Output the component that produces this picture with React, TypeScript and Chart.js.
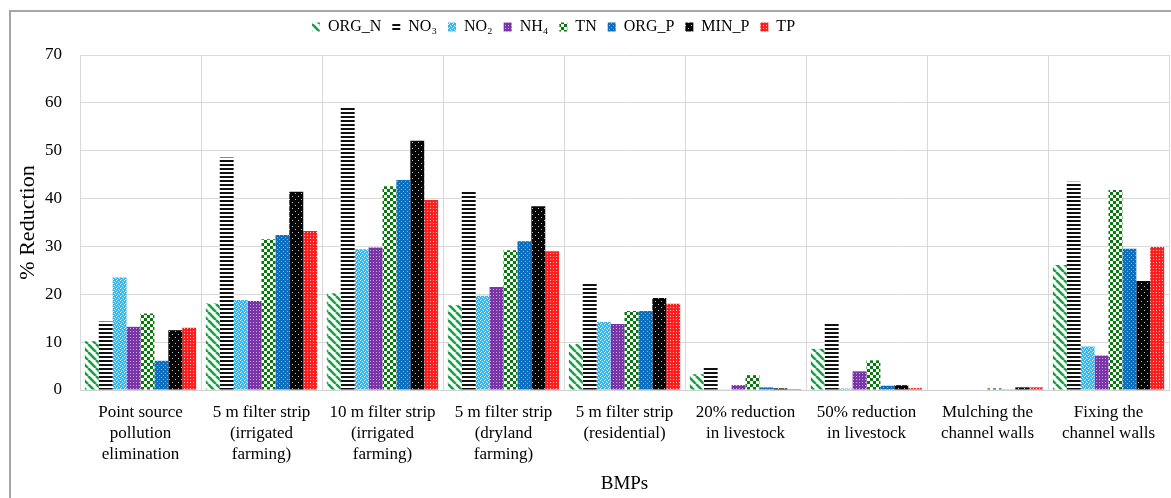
import React, { useEffect, useRef } from 'react';
import { Chart, registerables } from 'chart.js';

Chart.register(...registerables);

const categories: string[][] = [
  ['Point source', 'pollution', 'elimination'],
  ['5 m filter strip', '(irrigated', 'farming)'],
  ['10 m filter strip', '(irrigated', 'farming)'],
  ['5 m filter strip', '(dryland', 'farming)'],
  ['5 m filter strip', '(residential)'],
  ['20% reduction', 'in livestock'],
  ['50% reduction', 'in livestock'],
  ['Mulching the', 'channel walls'],
  ['Fixing the', 'channel walls'],
];

const seriesNames = ['ORG_N', 'NO₃', 'NO₂', 'NH₄', 'TN', 'ORG_P', 'MIN_P', 'TP'];

const orgN = [10.2, 18.1, 20.2, 17.7, 9.6, 3.3, 8.6, 0, 26.1];
const no3 = [14.3, 48.6, 59.0, 41.4, 22.5, 5.0, 13.8, 0, 43.5];
const no2 = [23.5, 18.8, 29.4, 19.7, 14.2, 0.15, 0.3, 0, 9.1];
const nh4 = [13.2, 18.6, 29.8, 21.5, 13.8, 1.0, 3.9, 0, 7.2];
const tn = [16.0, 31.5, 42.6, 29.2, 16.5, 3.1, 6.2, 0.35, 41.8];
const orgP = [6.1, 32.4, 43.9, 31.1, 16.5, 0.55, 0.9, 0.05, 29.5];
const minP = [12.5, 41.4, 52.1, 38.4, 19.2, 0.35, 1.0, 0.55, 22.8];
const tp = [13.0, 33.2, 39.7, 29.0, 18.0, 0.2, 0.4, 0.55, 29.9];

const yTicks = [0, 10, 20, 30, 40, 50, 60, 70];

const FONT = "'Liberation Serif', 'Times New Roman', 'DejaVu Serif', serif";

function makePattern(w: number, h: number, draw: (c: CanvasRenderingContext2D) => void): CanvasPattern {
  const cv = document.createElement('canvas');
  cv.width = w;
  cv.height = h;
  const c = cv.getContext('2d')!;
  draw(c);
  return c.createPattern(cv, 'repeat')!;
}

function px(c: CanvasRenderingContext2D, pts: number[][], color: string) {
  c.fillStyle = color;
  for (const [x, y] of pts) c.fillRect(x, y, 1, 1);
}

function buildPatterns() {
  const orgNP = makePattern(8, 8, (c) => {
    c.fillStyle = '#fff';
    c.fillRect(0, 0, 8, 8);
    c.strokeStyle = '#1a9f46';
    c.lineWidth = 2.6;
    for (const o of [-8, 0, 8]) {
      c.beginPath();
      c.moveTo(o, 0);
      c.lineTo(o + 8, 8);
      c.stroke();
    }
  });
  const no3P = makePattern(4, 4, (c) => {
    c.fillStyle = '#fff';
    c.fillRect(0, 0, 4, 4);
    c.fillStyle = '#111';
    c.fillRect(0, 0, 4, 2);
  });
  const no2P = makePattern(4, 4, (c) => {
    c.fillStyle = '#33b5ee';
    c.fillRect(0, 0, 4, 4);
    px(c, [[0, 0], [2, 1], [1, 3], [3, 2]], '#e8f7ff');
  });
  const nh4P = makePattern(3, 3, (c) => {
    c.fillStyle = '#7a35a8';
    c.fillRect(0, 0, 3, 3);
    px(c, [[1, 1]], 'rgba(255,255,255,0.55)');
  });
  const tnP = makePattern(6, 6, (c) => {
    c.fillStyle = '#fff';
    c.fillRect(0, 0, 6, 6);
    c.fillStyle = '#0a780f';
    c.fillRect(0, 0, 3, 3);
    c.fillRect(3, 3, 3, 3);
  });
  const orgPP = makePattern(4, 4, (c) => {
    c.fillStyle = '#0d6fc0';
    c.fillRect(0, 0, 4, 4);
    px(c, [[1, 1], [3, 3]], 'rgba(255,255,255,0.45)');
  });
  const minPP = makePattern(6, 6, (c) => {
    c.fillStyle = '#050505';
    c.fillRect(0, 0, 6, 6);
    px(c, [[1, 1], [4, 4]], 'rgba(255,255,255,0.75)');
  });
  const tpP = makePattern(3, 3, (c) => {
    c.fillStyle = '#ff1e1e';
    c.fillRect(0, 0, 3, 3);
    px(c, [[1, 1]], '#ffc8c8');
  });
  return [orgNP, no3P, no2P, nh4P, tnP, orgPP, minPP, tpP];
}

const legendTweak = {
  id: 'legendTweak',
  beforeLayout(chart: any) {
    const lg = chart.legend;
    if (lg && !lg.__patched) {
      const orig = lg.fit.bind(lg);
      lg.fit = function () {
        orig();
        this.height = 55;
      };
      lg.__patched = true;
    }
  },
  afterLayout(chart: any) {
    const lg = chart.legend;
    if (lg) {
      lg.top = 8;
      lg.right = 1107;
    }
  },
};

export default function App() {
  const ref = useRef<HTMLCanvasElement>(null);

  useEffect(() => {
    document.body.style.margin = '0';
    const patterns = buildPatterns();
    const values = [orgN, no3, no2, nh4, tn, orgP, minP, tp];
    const chart = new Chart(ref.current!, {
      type: 'bar',
      data: {
        labels: categories,
        datasets: seriesNames.map((name, i) => ({
          label: name,
          data: values[i],
          backgroundColor: patterns[i],
          borderWidth: 0,
          categoryPercentage: 0.92,
          barPercentage: 1.0,
        })),
      },
      options: {
        animation: false,
        responsive: true,
        maintainAspectRatio: false,
        layout: { padding: { left: 0, right: 2, top: 0, bottom: 0 } },
        plugins: {
          legend: {
            position: 'top',
            labels: {
              boxWidth: 8,
              boxHeight: 9,
              padding: 11,
              color: '#000',
              font: { family: FONT, size: 16 },
            },
          },
          tooltip: { enabled: false },
        },
        scales: {
          x: {
            grid: { color: '#d9d9d9', drawTicks: false, offset: true },
            border: { color: '#d0d0d0' },
            ticks: {
              color: '#000',
              font: { family: FONT, size: 17, lineHeight: 1.23 },
              padding: 12,
              maxRotation: 0,
              autoSkip: false,
            },
            title: {
              display: true,
              text: 'BMPs',
              color: '#000',
              font: { family: FONT, size: 19, lineHeight: 1.2 },
              padding: { top: 0, bottom: 3 },
            },
            afterFit: (s: any) => {
              s.height = 108;
            },
          },
          y: {
            min: 0,
            max: 70,
            afterBuildTicks: (s: any) => {
              s.ticks = yTicks.map((v) => ({ value: v }));
            },
            grid: { color: '#d9d9d9', drawTicks: false },
            border: { display: false },
            ticks: {
              color: '#000',
              font: { family: FONT, size: 17 },
              padding: 18,
            },
            title: {
              display: true,
              text: '% Reduction',
              color: '#000',
              font: { family: FONT, size: 22, lineHeight: 1.0 },
              padding: { top: 17, bottom: 0 },
            },
            afterFit: (s: any) => {
              s.width = 80;
            },
          },
        },
      },
      plugins: [legendTweak],
    });
    return () => chart.destroy();
  }, []);

  return (
    <div style={{ position: 'fixed', left: 0, top: 0, width: 1171, height: 498, overflow: 'hidden', background: '#fff' }}>
      <div
        style={{
          position: 'absolute',
          left: 9,
          top: 10,
          width: 1300,
          height: 600,
          borderLeft: '2px solid #a6a6a6',
          borderTop: '2px solid #a6a6a6',
          boxSizing: 'border-box',
        }}
      />
      <div style={{ position: 'absolute', left: 0, top: 0, width: 1171, height: 498 }}>
        <canvas ref={ref} />
      </div>
    </div>
  );
}
